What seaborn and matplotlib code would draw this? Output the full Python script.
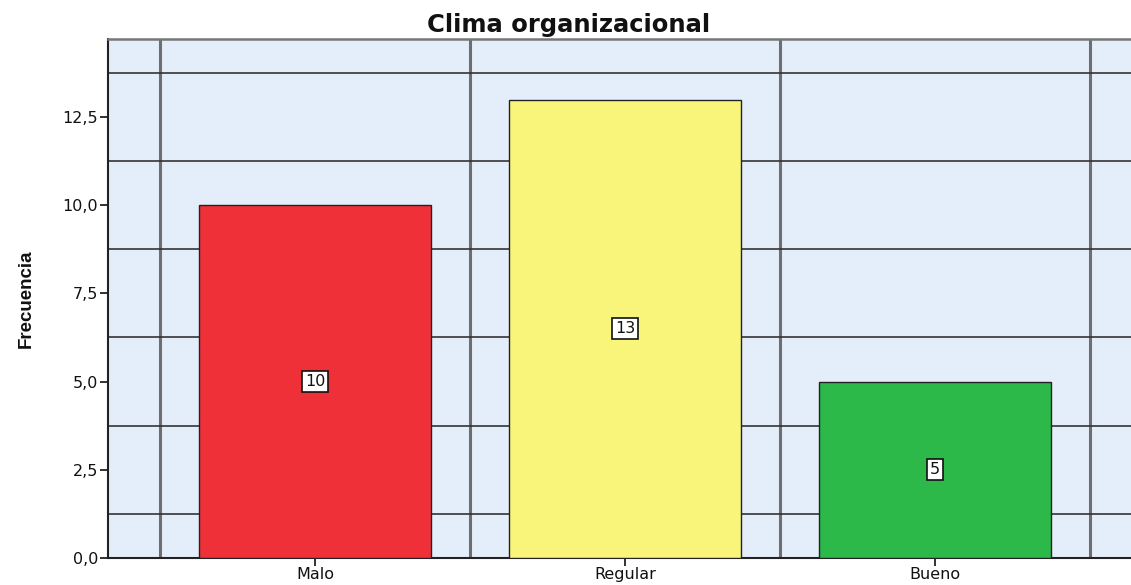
import matplotlib
matplotlib.use("Agg")
import matplotlib.pyplot as plt
import seaborn as sns
import pandas as pd

# datos del grafico
categorias = ["Malo", "Regular", "Bueno"]
frecuencias = [10, 13, 5]
colores = ["#EF3039", "#F8F57A", "#2DB84A"]
ticks_y = [0, 2.5, 5, 7.5, 10, 12.5]
etiquetas_y = ["0,0", "2,5", "5,0", "7,5", "10,0", "12,5"]

df = pd.DataFrame({"categoria": categorias, "frecuencia": frecuencias})

sns.set_style("white")
plt.rcParams['font.family'] = ['DejaVu Sans']

fig = plt.figure(figsize=(11.31, 5.85), dpi=100)
ax = fig.add_axes([108 / 1131, 27.3 / 585, 1 - 108 / 1131, (557.7 - 39) / 585])
ax.set_facecolor("#E3EEFA")

sns.barplot(data=df, x="categoria", y="frecuencia", hue="categoria",
            palette=colores, saturation=1, width=0.75, edgecolor="#222222",
            linewidth=1.0, legend=False, ax=ax, zorder=3)

ax.set_xlim(-0.668, 2.632)
ax.set_ylim(0, 14.72)

# rejilla tipo SPSS
ax.set_yticks(ticks_y)
ax.set_yticklabels(etiquetas_y)
ax.set_yticks([1.25, 3.75, 6.25, 8.75, 11.25, 13.75], minor=True)
ax.set_xticks([-0.5, 0.5, 1.5, 2.5], minor=True)
ax.grid(False)
ax.grid(which="minor", axis="y", color="#333333", linewidth=1.2, zorder=1)
ax.grid(which="minor", axis="x", color="#6E6E6E", linewidth=2.2, zorder=1)
ax.tick_params(which="minor", length=0)
ax.tick_params(which="major", bottom=True, left=True, direction="out",
               length=6, width=1.3, color="#222222", labelsize=11.5, pad=1,
               labelcolor="#111111")
ax.set_axisbelow(True)

for lado in ["left", "bottom"]:
    ax.spines[lado].set_color("#222222")
    ax.spines[lado].set_linewidth(1.5)
ax.spines["top"].set_color("#777777")
ax.spines["top"].set_linewidth(1.8)
ax.spines["right"].set_visible(False)

# etiquetas de valor
for i, v in enumerate(frecuencias):
    ax.text(i, v / 2, str(v), ha="center", va="center", fontsize=11.5, zorder=5,
            color="#111111",
            bbox=dict(boxstyle="square,pad=0.2", facecolor="white",
                      edgecolor="#111111", linewidth=1.2))

ax.set_xlabel("")
ax.set_ylabel("Frecuencia", fontsize=13.5, fontweight="bold",
              family=["Liberation Sans"], color="#111111")
ax.yaxis.set_label_coords(-73 / 1023, 0.5)

fig.text(569 / 1131, 1 - 32 / 585, "Clima organizacional", ha="center",
         va="baseline", fontsize=17.5, fontweight="bold", color="#111111")

fig.savefig("out.png", dpi=100)
